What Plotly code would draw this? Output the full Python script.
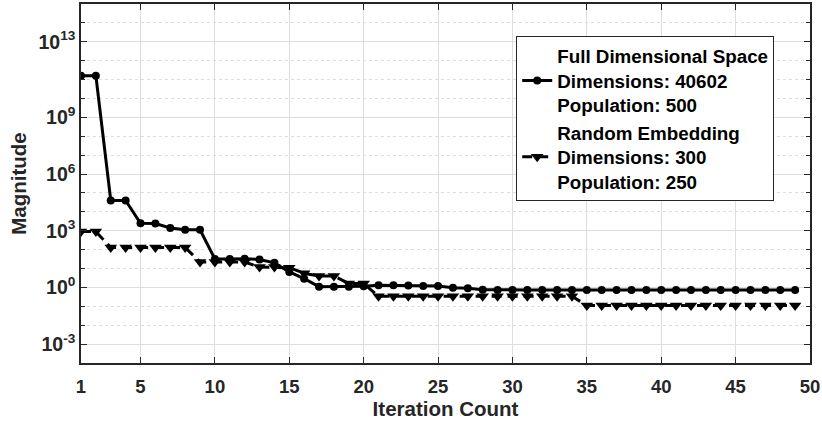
import plotly.graph_objects as go

iterations = list(range(1, 50))

full_dim = [1.6e11, 1.6e11, 4.0e4, 4.0e4, 2.5e3, 2.4e3, 1.4e3, 1.12e3, 1.12e3,
            32, 32, 33, 30, 20, 6.6, 2.9, 1.1, 1.1, 1.1, 1.15, 1.3, 1.3, 1.25,
            1.2, 1.2, 0.95, 0.9, 0.76] + [0.73] * 21

random_emb = [900, 900, 130, 130, 130, 130, 130, 130, 22, 22, 22, 22, 12, 12,
              11, 5.6, 4.0, 4.0, 1.6, 1.6] + [0.34] * 14 + [0.11] * 15

full_label = "Full Dimensional Space<br>Dimensions: 40602<br>Population: 500"
rand_label = "Random Embedding<br>Dimensions: 300<br>Population: 250"

x_ticks = [1, 5, 10, 15, 20, 25, 30, 35, 40, 45, 50]
y_tick_exp = [-3, 0, 3, 6, 9, 13]
y_minor_exp = list(range(-4, 16))

FONT = "Liberation Sans, Arial, sans-serif"
AX = "#262626"
GRID = "#dedede"

fig = go.Figure()
fig.add_trace(go.Scatter(
    x=iterations, y=full_dim, name=full_label, mode="lines+markers",
    line=dict(color="black", width=3),
    marker=dict(symbol="circle", size=8, color="black"),
))
fig.add_trace(go.Scatter(
    x=iterations, y=random_emb, name=rand_label, mode="lines+markers",
    line=dict(color="black", width=3, dash="10px,6px"),
    marker=dict(symbol="triangle-down", size=11, color="black"),
))

fig.update_layout(
    width=822, height=424,
    margin=dict(l=81, r=12, t=4, b=61),
    paper_bgcolor="white", plot_bgcolor="white",
    font=dict(family=FONT, color=AX, size=18, weight="bold"),
    legend=dict(
        x=0.597, y=0.91, xanchor="left", yanchor="top",
        bgcolor="white", bordercolor=AX, borderwidth=1,
        font=dict(family=FONT, size=18.8, color="black", weight="bold"),
        itemwidth=30, valign="middle", tracegroupgap=0,
    ),
    showlegend=True,
)

fig.update_xaxes(
    range=[1, 50], tickmode="array", tickvals=x_ticks, automargin=False,
    ticks="inside", ticklen=6, tickcolor=AX, tickwidth=1.2,
    showline=True, linecolor=AX, linewidth=1.5, mirror="ticks",
    showgrid=True, gridcolor=GRID, gridwidth=1, zeroline=False,
    tickfont=dict(family=FONT, size=18.5, color=AX, weight="bold"),
    ticklabelstandoff=6,
    title=dict(text="Iteration Count", standoff=2,
               font=dict(family=FONT, size=20.5, color=AX, weight="bold")),
)

fig.update_yaxes(
    type="log", range=[-4, 15], tickmode="array", automargin=False,
    tickvals=[10.0 ** e for e in y_tick_exp],
    ticktext=["10<sup>%d</sup>" % e for e in y_tick_exp],
    ticks="inside", ticklen=6, tickcolor=AX, tickwidth=1.2,
    showline=True, linecolor=AX, linewidth=1.5, mirror="ticks",
    showgrid=True, gridcolor=GRID, gridwidth=1, zeroline=False,
    tickfont=dict(family=FONT, size=19.5, color=AX, weight="bold"),
    minor=dict(tickmode="array", tickvals=[10.0 ** e for e in y_minor_exp],
               ticks="inside", ticklen=4, tickcolor=AX,
               showgrid=True, gridcolor=GRID, griddash="dot", gridwidth=1),
    title=dict(text="Magnitude", standoff=6,
               font=dict(family=FONT, size=20.5, color=AX, weight="bold")),
)

fig.write_html("out.html", config={"displayModeBar": False},
               post_script="document.body.style.margin='0';")
